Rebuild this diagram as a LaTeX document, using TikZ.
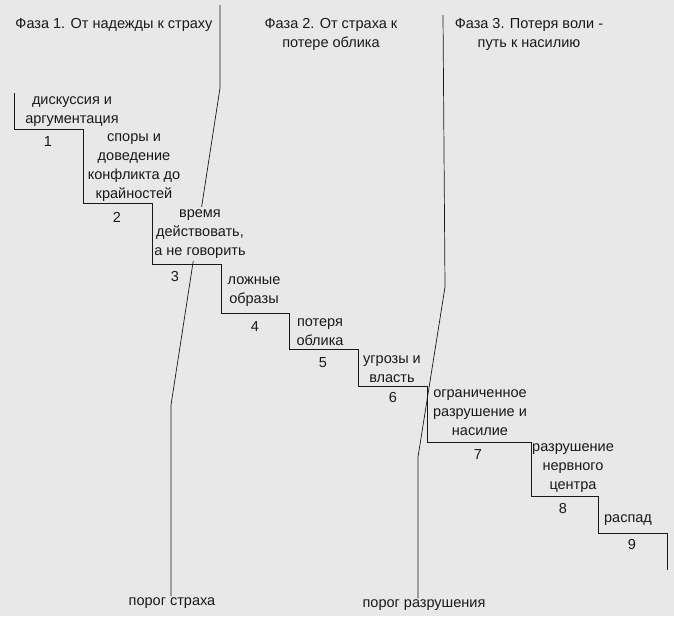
\documentclass[tikz,border=0pt]{standalone}
\usepackage{fontspec}
\setmainfont{Liberation Sans}
\definecolor{paper}{RGB}{232,232,232}
\definecolor{ink}{RGB}{25,25,25}

\begin{document}
\begin{tikzpicture}[x=1pt,y=-1pt]
        \tikzstyle{every node}=[text=ink, font=\fontsize{14.5}{19}\selectfont]
        \tikzstyle{phase}=[align=center, inner sep=1pt]
        \tikzstyle{stage}=[align=center, fill=paper, inner xsep=1pt, inner ysep=3pt]
        \tikzstyle{num}=[inner sep=0pt]
        \tikzstyle{stair}=[draw=ink, line width=0.9pt]
        \tikzstyle{threshold}=[draw=ink, line width=0.7pt]
        \fill[paper] (0,0) rectangle (674,616);
        % phases
        \node[phase] (phase1) at (114,25) {Фаза 1. От надежды к страху};
        \node[phase] (phase2) at (331,34) {Фаза 2. От страха к\\потере облика};
        \node[phase] (phase3) at (529,34) {Фаза 3. Потеря воли -\\путь к насилию};
        % thresholds
        \node[phase] (fear) at (172,603) {порог страха};
        \node[phase] (ruin) at (424,605) {порог разрушения};
        \coordinate (fear0) at (220,5);
        \coordinate (fear1) at (220,88);
        \coordinate (fear2) at (171,405);
        \coordinate (ruin0) at (443,15);
        \coordinate (ruin1) at (445,287);
        \coordinate (ruin2) at (418,457);
        \draw[threshold] (fear0) -- (fear1) -- (fear2) -- (fear2 |- fear.north);
        \draw[threshold] (ruin0) -- (ruin1) -- (ruin2) -- (ruin2 |- ruin.north);
        % stages
        \node[stage] (stage1) at (72,112) {дискуссия и\\аргументация};
        \node[stage] (stage2) at (134,168) {споры и\\доведение\\конфликта до\\крайностей};
        \node[stage] (stage3) at (200,234) {время\\действовать,\\а не говорить};
        \node[stage] (stage4) at (254,292) {ложные\\образы};
        \node[stage] (stage5) at (320,332) {потеря\\облика};
        \node[stage] (stage6) at (392,369) {угрозы и\\власть};
        \node[stage] (stage7) at (480,413) {ограниченное\\разрушение и\\насилие};
        \node[stage] (stage8) at (573,468) {разрушение\\нервного\\центра};
        \node[stage] (stage9) at (628,520) {распад};
        % stairs
        \draw[stair] (14,93) -- (14,129) -| (83,203) -| (152,264) -| (221,313) -| (289,349)
                -| (358,386) -| (427,442) -| (531,496) -| (598,533) -| (667,570);
        \foreach \n/\x/\y in {1/48/142, 2/117/217, 3/175/277, 4/255/327, 5/323/363,
                6/393/398, 7/478/455, 8/563/508, 9/632/544}
            \node[num] (num\n) at (\x,\y) {\n};
\end{tikzpicture}
\end{document}
